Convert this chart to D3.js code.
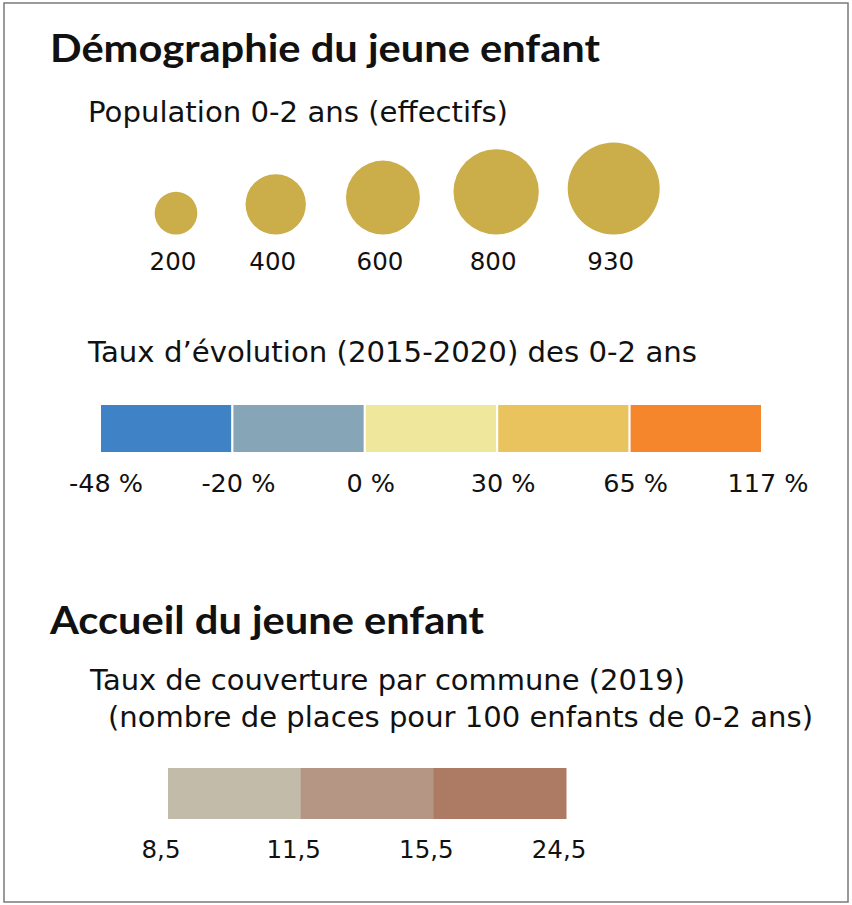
<!DOCTYPE html>
<html>
<head>
<meta charset="utf-8">
<script src="https://cdn.jsdelivr.net/npm/d3@7"></script>
<style>
  body { margin: 0; background: #fff; }
  svg { display: block; }
</style>
</head>
<body>
<svg id="legend"></svg>
<script>
// population 0-2 ans, cercles proportionnels
const popValues = [200, 400, 600, 800, 930];
// taux d'evolution 2015-2020, bornes des classes
const evolBreaks = ["-48 %", "-20 %", "0 %", "30 %", "65 %", "117 %"];
const evolColors = ["#3f83c6", "#86a6b8", "#efe89c", "#e9c35e", "#f5862c"];
// taux de couverture 2019
const couvBreaks = ["8,5", "11,5", "15,5", "24,5"];
const couvColors = ["#c2bbaa", "#b59685", "#ad7a63"];

var width = 852, height = 905;
var svg = d3.select("#legend").attr("width", width).attr("height", height);

// cadre
svg.append("rect")
   .attr("x", 4).attr("y", 3)
   .attr("width", 844).attr("height", 899)
   .attr("fill", "none")
   .attr("stroke", "#7a7a7a")
   .attr("stroke-width", 1.5);

var titleFont = "Lato, 'Open Sans', sans-serif";
var textFont = "'DejaVu Sans', Verdana, sans-serif";

function title(txt, y, len) {
  svg.append("text")
     .attr("x", 50).attr("y", y)
     .attr("font-family", titleFont)
     .attr("font-weight", "bold")
     .attr("font-size", 39)
     .attr("textLength", len)
     .attr("lengthAdjust", "spacingAndGlyphs")
     .attr("fill", "#111")
     .text(txt);
}
// sous-titres, largeur calee sur la ref (verdana plus large que dejavu)
function sub(txt, x, y, len) {
  svg.append("text")
     .attr("x", x).attr("y", y)
     .attr("font-family", textFont)
     .attr("font-size", 29)
     .attr("textLength", len)
     .attr("lengthAdjust", "spacingAndGlyphs")
     .attr("fill", "#111")
     .text(txt);
}

title("Démographie du jeune enfant", 62, 550);
sub("Population 0-2 ans (effectifs)", 88, 122, 420);

// cercles, alignes par le bas
var r = d3.scaleSqrt().domain([0, d3.max(popValues)]).range([0, 46]);
var cx = [176];
for (var i = 1; i < popValues.length; i++) {
  cx.push(cx[i - 1] + 75 + 0.48 * (r(popValues[i - 1]) + r(popValues[i])));
}
var base = 234.5;
var circles = svg.append("g");
circles.selectAll("circle")
       .data(popValues)
       .enter().append("circle")
       .attr("cx", function(d, i) { return cx[i]; })
       .attr("cy", function(d) { return base - r(d); })
       .attr("r", function(d) { return r(d); })
       .attr("fill", "#cbad49");
circles.selectAll("text")
       .data(popValues)
       .enter().append("text")
       .attr("x", function(d, i) { return cx[i] - 3; })
       .attr("y", 269.5)
       .attr("text-anchor", "middle")
       .attr("font-family", textFont)
       .attr("font-size", 24.5)
       .attr("fill", "#111")
       .text(function(d) { return d; });

sub("Taux d\u2019évolution (2015-2020) des 0-2 ans", 88, 362, 609);

// barre des classes d'evolution
var xe = d3.scaleLinear().domain([0, evolColors.length]).range([100, 762]);
var evol = svg.append("g");
evol.selectAll("rect")
    .data(evolColors)
    .enter().append("rect")
    .attr("x", function(d, i) { return xe(i); })
    .attr("y", 404)
    .attr("width", function(d, i) { return xe(i + 1) - xe(i); })
    .attr("height", 49)
    .attr("fill", function(d) { return d; })
    .attr("stroke", "#fff")
    .attr("stroke-width", 2);
evol.selectAll("text")
    .data(evolBreaks)
    .enter().append("text")
    .attr("x", function(d, i) { return xe(i) + 6; })
    .attr("y", 492)
    .attr("text-anchor", "middle")
    .attr("font-family", textFont)
    .attr("font-size", 25.5)
    .attr("fill", "#111")
    .text(function(d) { return d; });

title("Accueil du jeune enfant", 634, 434);
sub("Taux de couverture par commune (2019)", 90, 690, 595);
sub("(nombre de places pour 100 enfants de 0-2 ans)", 108, 727, 705);

// barre du taux de couverture
var xc = d3.scaleLinear().domain([0, couvColors.length]).range([168, 566]);
var couv = svg.append("g");
couv.selectAll("rect")
    .data(couvColors)
    .enter().append("rect")
    .attr("x", function(d, i) { return xc(i); })
    .attr("y", 768)
    .attr("width", function(d, i) { return xc(i + 1) - xc(i) + 0.5; })
    .attr("height", 51)
    .attr("fill", function(d) { return d; });
couv.selectAll("text")
    .data(couvBreaks)
    .enter().append("text")
    .attr("x", function(d, i) { return xc(i) - 7; })
    .attr("y", 858)
    .attr("text-anchor", "middle")
    .attr("font-family", textFont)
    .attr("font-size", 24.5)
    .attr("fill", "#111")
    .text(function(d) { return d; });
</script>
</body>
</html>
